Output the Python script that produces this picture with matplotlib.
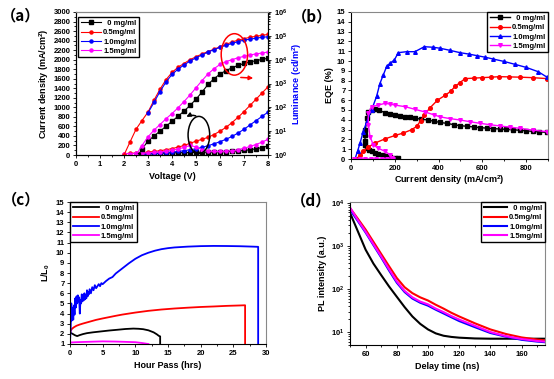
import matplotlib
matplotlib.use('Agg')
import matplotlib.pyplot as plt
from matplotlib.patches import Ellipse
from matplotlib.ticker import MultipleLocator, LogLocator, NullFormatter

plt.rcParams.update({
    'font.family': ['Liberation Sans', 'DejaVu Sans'],
    'font.weight': 'bold',
    'axes.labelweight': 'bold',
    'mathtext.fontset': 'custom',
    'mathtext.rm': 'Liberation Sans:bold',
    'mathtext.bf': 'Liberation Sans:bold',
    'mathtext.it': 'Liberation Sans:bold:italic',
    'mathtext.default': 'bf',
    'axes.linewidth': 0.8,
})

labels = ["  0 mg/ml", "0.5mg/ml", "1.0mg/ml", "1.5mg/ml"]
colors = ['#000000', '#ff0000', '#0000ff', '#ff00ff']

# ---------------- (a) J-V-L ----------------
V_lum_0 = [2.6, 2.75, 3.0, 3.25, 3.5, 3.75, 4.0, 4.25, 4.5, 4.75, 5.0, 5.25, 5.5, 5.75, 6.0, 6.25, 6.5, 6.75, 7.0, 7.25, 7.5, 7.75, 8.0]
L_0 = [1, 1.8, 3.8, 6.3, 10, 16, 26, 42, 69, 120, 219, 437, 912, 1580, 2510, 3470, 4570, 5750, 6920, 7940, 9120, 10200, 11500]
V_lum_05 = [2.0, 2.25, 2.5, 2.75, 3.0, 3.25, 3.5, 3.75, 4.0, 4.25, 4.5, 4.75, 5.0, 5.25, 5.5, 5.75, 6.0, 6.25, 6.5, 6.75, 7.0, 7.25, 7.5, 7.75, 8.0]
L_05 = [1, 3.5, 12, 28, 63, 200, 575, 1450, 2900, 4800, 6900, 10000, 13200, 17400, 21900, 27500, 34700, 43600, 55000, 66100, 75900, 87100, 95500, 104700, 114800]
V_lum_10 = [3.0, 3.25, 3.5, 3.75, 4.0, 4.25, 4.5, 4.75, 5.0, 5.25, 5.5, 5.75, 6.0, 6.25, 6.5, 6.75, 7.0, 7.25, 7.5, 7.75, 8.0]
L_10 = [58, 160, 460, 1150, 2400, 4000, 6000, 8700, 12000, 15800, 20900, 26300, 33100, 39800, 47900, 57500, 66100, 72400, 79400, 87100, 91200]
V_lum_15 = [2.5, 2.75, 3.0, 3.25, 3.5, 3.75, 4.0, 4.25, 4.5, 4.75, 5.0, 5.25, 5.5, 5.75, 6.0, 6.25, 6.5, 6.75, 7.0, 7.25, 7.5, 7.75, 8.0]
L_15 = [1, 2.5, 5.8, 11, 19, 33, 55, 95, 174, 331, 661, 1320, 2510, 4170, 6310, 8320, 10000, 12000, 13800, 15800, 17400, 19100, 20900]

V_J_0 = V_lum_0
J_0 = [0, 15, 25, 30, 35, 40, 45, 48, 50, 52, 55, 57, 60, 63, 67, 72, 78, 85, 95, 110, 130, 155, 190]
V_J_05 = V_lum_05
J_05 = [30, 35, 40, 50, 60, 75, 90, 110, 135, 165, 200, 245, 290, 330, 370, 430, 500, 580, 680, 790, 910, 1040, 1170, 1300, 1430]
V_J_10 = V_lum_15
J_10 = [10, 15, 20, 30, 40, 50, 60, 75, 90, 110, 130, 160, 195, 235, 280, 330, 390, 460, 540, 630, 720, 810, 900]
V_J_15 = V_lum_05
J_15 = [30, 30, 35, 40, 45, 55, 65, 80, 100, 125, 160, 200, 170, 110, 85, 75, 75, 80, 90, 110, 140, 180, 220, 270, 330]

# ---------------- (b) EQE ----------------
Jb_0 = [216, 201, 180, 163, 145, 125, 110, 95, 80, 72, 66, 64, 64, 66, 72, 79, 95, 110, 130, 155,
        180, 201, 225, 247, 270, 292, 320, 350, 380, 407, 440, 470, 498, 530, 560, 589, 620, 650, 681, 710,
        740, 772, 800, 830, 860, 894]
Eb_0 = [0.07, 0.1, 0.18, 0.27, 0.38, 0.51, 0.62, 0.78, 0.95, 1.1, 1.4, 1.8, 2.4, 3.0, 4.16, 4.83, 5.0, 5.07, 4.95, 4.73,
        4.6, 4.5, 4.42, 4.33, 4.25, 4.16, 4.07, 3.98, 3.85, 3.73, 3.63, 3.5, 3.4, 3.34, 3.27, 3.2, 3.15, 3.1, 3.06, 3.02,
        2.98, 2.93, 2.88, 2.82, 2.77, 2.72]
Jb_05 = [26, 40, 56, 79, 110, 155, 201, 239, 277, 300, 318, 335, 360, 395, 430, 455, 475, 498, 521, 560, 600, 640, 678, 720, 772, 830, 897]
Eb_05 = [0, 0.4, 0.78, 1.22, 1.63, 2.05, 2.4, 2.65, 2.99, 3.33, 3.9, 4.5, 5.2, 6.0, 6.5, 6.9, 7.4, 7.8, 8.2, 8.25, 8.3, 8.35, 8.4, 8.38, 8.35, 8.3, 8.2]
Jb_10 = [18, 30, 41, 56, 72, 94, 117, 132, 148, 163, 180, 198, 216, 254, 292, 335, 376, 407, 450, 498,
         540, 574, 610, 650, 700, 749, 800, 856, 897]
Eb_10 = [0, 0.8, 1.6, 2.8, 3.8, 5.0, 6.4, 7.7, 8.6, 9.45, 9.8, 10.1, 10.85, 10.95, 10.95, 11.46, 11.4, 11.3, 11.1, 10.85,
         10.7, 10.55, 10.4, 10.2, 9.95, 9.66, 9.35, 8.9, 8.33]
Jb_15 = [15, 40, 65, 90, 115, 140, 165, 190, 186, 178, 155, 125, 102, 87, 79, 79, 94, 125, 155, 180,
         201, 247, 292, 338, 380, 407, 450, 498, 545, 589, 635, 681, 725, 772, 830, 894]
Eb_15 = [0, 0, 0, 0, 0, 0, 0, 0.02, 0.1, 0.44, 0.78, 1.1, 1.43, 2.28, 3.47, 4.66, 5.34, 5.5, 5.68, 5.6,
         5.5, 5.34, 5.07, 4.8, 4.5, 4.3, 4.13, 3.98, 3.8, 3.64, 3.5, 3.37, 3.25, 3.13, 2.95, 2.79]

# ---------------- (c) lifetime ----------------
t_0 = [0.1, 0.4, 0.8, 1.1, 1.5, 2.0, 2.6, 3.5, 4.6, 6.0, 7.2, 8.5, 9.7, 10.5, 11.2, 12.0, 12.8, 13.3, 13.6, 13.8, 13.8]
LL_0 = [2.1, 2.0, 1.85, 1.78, 1.88, 1.98, 2.07, 2.15, 2.23, 2.33, 2.4, 2.48, 2.52, 2.5, 2.46, 2.35, 2.15, 1.95, 1.8, 1.75, 1.0]
t_05 = [0.0, 0.1, 0.3, 0.6, 1.0, 1.5, 2.0, 3.0, 4.0, 5.0, 6.0, 7.0, 8.0, 9.0, 10.0, 12.0, 14.0, 16.0, 18.0, 20.0, 22.0, 24.0, 26.0, 26.8, 26.8]
LL_05 = [2.0, 2.3, 2.5, 2.65, 2.8, 2.92, 3.02, 3.2, 3.38, 3.52, 3.65, 3.78, 3.9, 4.0, 4.1, 4.27, 4.4, 4.5, 4.58, 4.65, 4.7, 4.76, 4.8, 4.82, 1.0]
t_10 = [0.0, 0.1, 0.2, 0.25, 0.3, 0.35, 0.4, 0.5, 0.6, 0.7, 0.8, 0.9, 1.0, 1.1, 1.2, 1.3, 1.4, 1.5, 1.6, 1.7,
        1.8, 1.9, 2.0, 2.1, 2.2, 2.3, 2.4, 2.5, 2.6, 2.7, 2.8, 2.9, 3.0, 3.2, 3.4, 3.6, 3.8, 4.0, 4.2, 4.4,
        4.6, 4.8, 5.0, 5.5, 6.0, 6.5, 7.0, 8.0, 9.0, 10.0, 11.0, 12.0, 13.0, 14.0, 15.0, 16.0, 18.0, 20.0, 22.0, 24.0,
        26.0, 28.0, 28.8, 28.8]
LL_10 = [1.2, 2.5, 5.0, 3.3, 4.6, 3.6, 4.2, 3.4, 4.8, 3.9, 5.5, 4.6, 5.7, 5.0, 5.8, 5.2, 5.6, 4.0, 5.3, 5.0,
         5.9, 5.2, 5.6, 5.3, 6.0, 5.4, 5.8, 5.5, 6.3, 5.7, 6.1, 5.9, 6.4, 6.0, 6.6, 6.3, 6.8, 6.5, 6.7, 6.9,
         6.7, 7.0, 6.9, 7.2, 7.45, 7.6, 7.95, 8.45, 8.95, 9.4, 9.75, 10.0, 10.2, 10.35, 10.45, 10.52, 10.6, 10.65, 10.67, 10.66,
         10.64, 10.6, 10.58, 1.0]
t_15 = [0.1, 1, 2, 3, 4, 5, 6, 7, 8, 9, 10, 11, 12]
LL_15 = [1.15, 1.18, 1.2, 1.22, 1.24, 1.26, 1.25, 1.24, 1.22, 1.2, 1.18, 1.1, 1.0]

# ---------------- (d) TRPL ----------------
td = [50, 55, 60, 65, 70, 75, 80, 85, 90, 95, 100, 105, 110, 115, 120, 130, 140, 150, 160, 170, 175]
PL_0 = [5900, 2200, 820, 390, 210, 115, 66, 38, 23, 15.5, 11.5, 9.3, 8.2, 7.7, 7.4, 7.1, 7.0, 7.0, 7.0, 7.0, 7.0]
PL_05 = [7600, 4300, 2400, 1250, 650, 340, 180, 110, 80, 64, 54, 43, 35, 28, 23, 16, 11.5, 9.0, 7.5, 6.7, 6.4]
PL_10 = [7000, 3800, 2050, 1050, 540, 270, 140, 85, 60, 48, 41, 33, 27, 22, 18, 13, 9.5, 7.8, 6.6, 6.0, 5.8]
PL_15 = [7800, 4000, 2150, 1100, 570, 290, 150, 90, 64, 51, 44, 35, 29, 23.5, 19.5, 14, 10, 8.0, 6.9, 6.2, 6.0]

W, H = 554, 379
fig = plt.figure(figsize=(W / 100, H / 100), dpi=100)

def rect(l, t, r, b):
    return [l / W, 1 - b / H, (r - l) / W, (b - t) / H]

def style(ax, gray_right=True):
    ax.tick_params(which='both', direction='out', labelsize=5.5, pad=1.5, width=0.6)
    ax.tick_params(which='major', length=2.5)
    ax.tick_params(which='minor', length=1.5)
    ax.spines['top'].set_color('#888888')
    if gray_right:
        ax.spines['right'].set_color('#888888')

lkw = dict(prop={'weight': 'bold', 'size': 5.5}, frameon=True, fancybox=False,
           edgecolor='black', framealpha=1, borderpad=0.35, labelspacing=0.25,
           handletextpad=0.3)

# (a)
axa = fig.add_axes(rect(76, 12, 268, 155))
axa2 = axa.twinx()
mk = ['s', 'o', 'o', 'o']
for V, J, c, m in zip([V_J_0, V_J_05, V_J_10, V_J_15], [J_0, J_05, J_10, J_15], colors, mk):
    axa.plot(V, J, color=c, marker=m, ms=2.2, lw=0.8)
hs = []
for V, L, c, m, lab in zip([V_lum_0, V_lum_05, V_lum_10, V_lum_15], [L_0, L_05, L_10, L_15], colors, mk, labels):
    h, = axa2.plot(V, L, color=c, marker=m, ms=2.2, lw=0.8, label=lab)
    hs.append(h)
axa.set_xlim(0, 8)
axa.set_ylim(0, 3000)
axa2.set_yscale('log')
axa2.set_ylim(1, 1e6)
axa.xaxis.set_major_locator(MultipleLocator(1))
axa.xaxis.set_minor_locator(MultipleLocator(0.5))
axa.yaxis.set_major_locator(MultipleLocator(200))
axa.yaxis.set_minor_locator(MultipleLocator(100))
axa2.yaxis.set_major_locator(LogLocator(base=10, numticks=10))
axa2.yaxis.set_minor_locator(LogLocator(base=10, subs=range(2, 10), numticks=10))
axa2.yaxis.set_minor_formatter(NullFormatter())
style(axa, gray_right=False)
style(axa2, gray_right=False)
axa.set_xlabel('Voltage (V)', fontsize=6.5, labelpad=3)
axa.set_ylabel('Current density (mA/cm$^{2}$)', fontsize=6.5, labelpad=2)
axa2.set_ylabel('Luminance (cd/m$^{2}$)', fontsize=6.5, color='#0000ff', labelpad=2)
# annotation ellipses drawn on top of all curves (left-axis data coordinates)
axa2.add_patch(Ellipse((5.12, 420), 0.9, 780, fill=False, ec='black', lw=1.1,
                       transform=axa.transData, zorder=5))
axa2.annotate('', xy=(4.5, 770), xytext=(5.1, 800), xycoords=axa.transData, textcoords=axa.transData,
              arrowprops=dict(arrowstyle='-|>', color='black', lw=1.1, mutation_scale=6,
                              connectionstyle='arc3,rad=0.3'), zorder=5)
axa2.add_patch(Ellipse((6.6, 2110), 1.1, 870, fill=False, ec='red', lw=1.1,
                       transform=axa.transData, zorder=5))
axa2.annotate('', xy=(7.5, 1610), xytext=(6.75, 1630), xycoords=axa.transData, textcoords=axa.transData,
              arrowprops=dict(arrowstyle='-|>', color='red', lw=1.1, mutation_scale=6), zorder=5)
axa2.legend(handles=hs, loc='upper left', bbox_to_anchor=(0.012, 0.965), handlelength=2.6,
            borderaxespad=0, **lkw)

# (b)
axb = fig.add_axes(rect(351, 12, 548, 159))
mkb = ['s', 'o', '^', 'v']
for J, E, c, m, lab in zip([Jb_0, Jb_05, Jb_10, Jb_15], [Eb_0, Eb_05, Eb_10, Eb_15], colors, mkb, labels):
    axb.plot(J, E, color=c, marker=m, ms=2.6, lw=1.0, label=lab)
axb.set_xlim(0, 900)
axb.set_ylim(0, 15)
axb.xaxis.set_major_locator(MultipleLocator(200))
axb.xaxis.set_minor_locator(MultipleLocator(100))
axb.yaxis.set_major_locator(MultipleLocator(1))
style(axb)
axb.set_xlabel('Current density (mA/cm$^{2}$)', fontsize=6.5, labelpad=1)
axb.set_ylabel('EQE (%)', fontsize=6.5, labelpad=2)
axb.legend(loc='upper right', handlelength=2.6, borderaxespad=0, **lkw)

# (c)
axc = fig.add_axes(rect(70, 202, 266, 344))
for t, L, c, lab in zip([t_0, t_05, t_10, t_15], [LL_0, LL_05, LL_10, LL_15], colors, labels):
    axc.plot(t, L, color=c, lw=1.3, label=lab)
axc.set_xlim(0, 30)
axc.set_ylim(1, 15)
axc.xaxis.set_major_locator(MultipleLocator(5))
axc.xaxis.set_minor_locator(MultipleLocator(2.5))
axc.yaxis.set_major_locator(MultipleLocator(1))
style(axc)
axc.set_xlabel('Hour Pass (hrs)', fontsize=6.5, labelpad=3)
axc.set_ylabel('L/L$_{0}$', fontsize=6.5, labelpad=3)
axc.legend(loc='upper left', handlelength=3.4, borderaxespad=0, **lkw)

# (d)
axd = fig.add_axes(rect(350, 202, 545, 345))
for PL, c, lab in zip([PL_0, PL_05, PL_10, PL_15], colors, labels):
    axd.plot(td, PL, color=c, lw=1.5, label=lab)
axd.set_yscale('log')
axd.set_xlim(50, 175)
axd.set_ylim(5, 1.05e4)
axd.xaxis.set_major_locator(MultipleLocator(20))
axd.xaxis.set_minor_locator(MultipleLocator(10))
axd.yaxis.set_minor_locator(LogLocator(base=10, subs=range(2, 10), numticks=10))
axd.yaxis.set_minor_formatter(NullFormatter())
style(axd)
axd.set_xlabel('Delay time (ns)', fontsize=6.5, labelpad=3)
axd.set_ylabel('PL intensity (a.u.)', fontsize=6.5, labelpad=3)
axd.legend(loc='upper right', handlelength=3.0, borderaxespad=0, **lkw)

# panel labels
pkw = dict(fontsize=11, fontweight='bold', ha='center', va='center',
           family=['Noto Sans CJK SC', 'DejaVu Sans'])
fig.text(21 / W, 1 - 15 / H, '（a）', **pkw)
fig.text(312 / W, 1 - 16 / H, '（b）', **pkw)
fig.text(21 / W, 1 - 199 / H, '（c）', **pkw)
fig.text(311 / W, 1 - 200 / H, '（d）', **pkw)

fig.savefig('out.png', dpi=100)
